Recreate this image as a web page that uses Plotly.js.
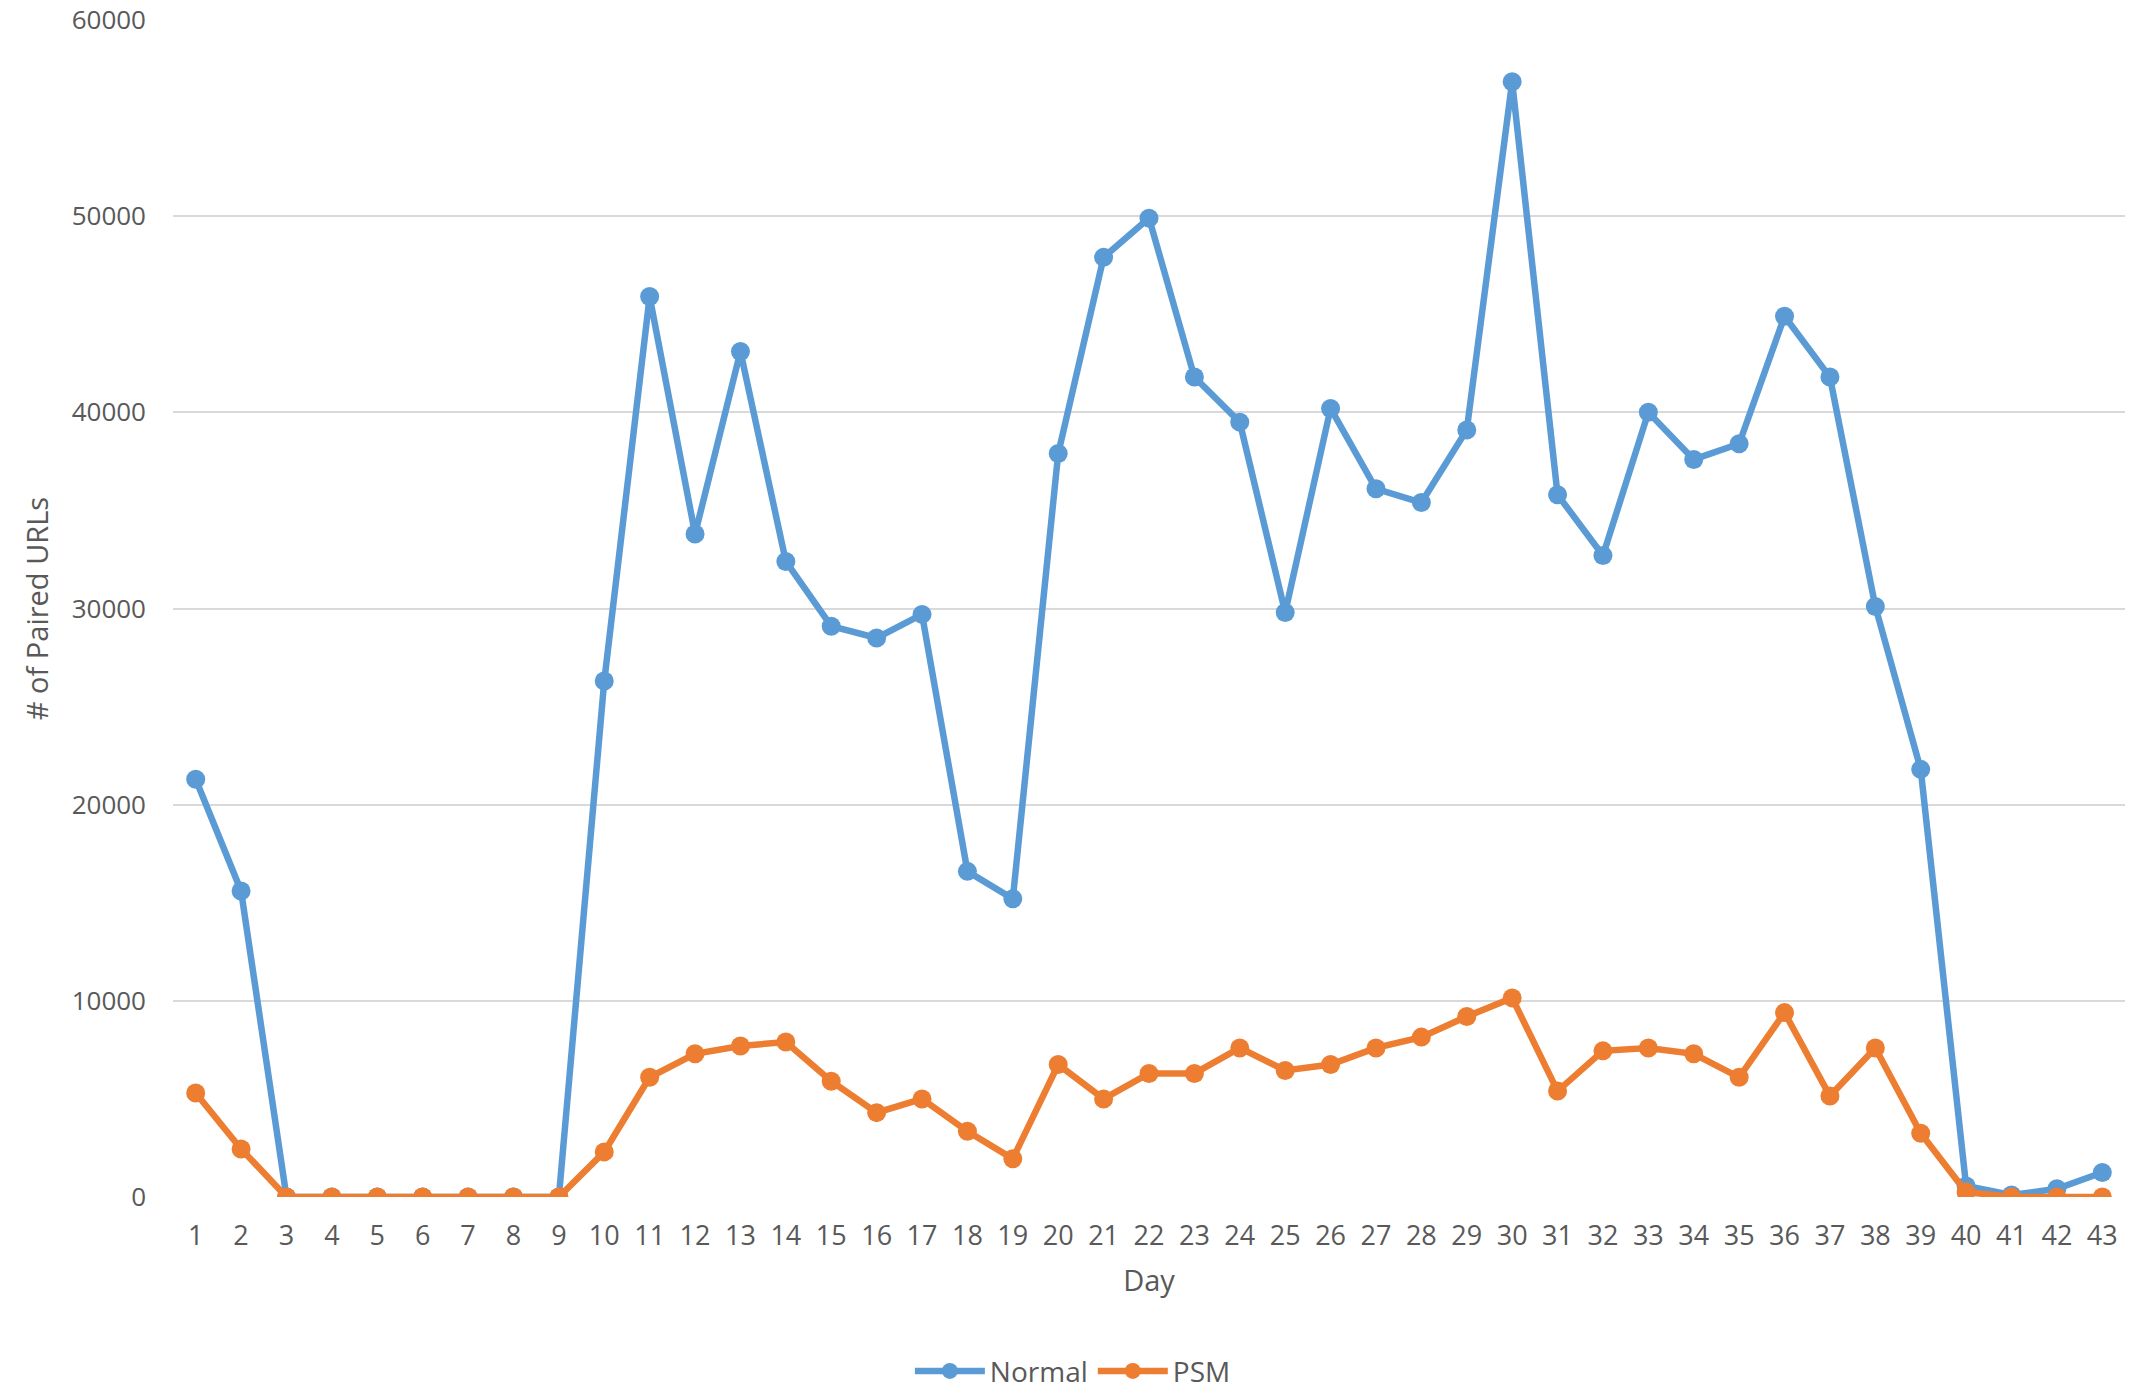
<!DOCTYPE html>
<html>
<head>
<meta charset="utf-8">
<script src="https://cdn.plot.ly/plotly-3.0.1.min.js"></script>
<style>
  html, body { margin: 0; padding: 0; background: #fff; }
  #chart { width: 2142px; height: 1399px; }
</style>
</head>
<body>
<div id="chart"></div>
<script>
// Days 1..43
const days = Array.from({ length: 43 }, (_, i) => String(i + 1));

// # of paired URLs per day
const normalValues = [
    21300, 15600, 0, 0, 0, 0, 0, 0, 0, 26300,
    45900, 33800, 43100, 32400, 29100, 28500, 29700, 16600, 15200, 37900,
    47900, 49900, 41800, 39500, 29800, 40200, 36100, 35400, 39100, 56850,
    35800, 32700, 40000, 37600, 38400, 44900, 41800, 30100, 21800, 560,
    100, 420, 1250
];

const psmValues = [
    5300, 2450, 0, 0, 0, 0, 0, 0, 0, 2300,
    6100, 7300, 7700, 7900, 5900, 4300, 5000, 3350, 1950, 6750,
    5000, 6300, 6300, 7600, 6450, 6750, 7600, 8150, 9200, 10150,
    5400, 7450, 7600, 7300, 6100, 9400, 5150, 7600, 3250, 250,
    0, 0, 0
];

const textColor = "#595959";
const fontFamily = "'Open Sans', 'Noto Sans', sans-serif";

const traceNormal = {
    type: "scatter",
    mode: "lines+markers",
    name: "Normal",
    x: days,
    y: normalValues,
    line: { color: "#5B9BD5", width: 6.5 },
    marker: { color: "#5B9BD5", size: 19 }
};

const tracePSM = {
    type: "scatter",
    mode: "lines+markers",
    name: "PSM",
    x: days,
    y: psmValues,
    line: { color: "#ED7D31", width: 6.5 },
    marker: { color: "#ED7D31", size: 19 }
};

const layout = {
    width: 2142,
    height: 1399,
    paper_bgcolor: "#fff",
    plot_bgcolor: "#fff",
    margin: { l: 173, r: 17, t: 20, b: 202, autoexpand: false },
    font: { family: fontFamily, size: 27, color: textColor },
    showlegend: true,
    legend: {
        orientation: "h",
        x: 0.461,
        xanchor: "center",
        y: -0.148,
        yanchor: "middle",
        font: { size: 28, color: textColor },
        itemwidth: 70
    },
    xaxis: {
        type: "category",
        range: [-0.5, 42.5],
        showgrid: false,
        zeroline: false,
        showline: false,
        ticks: "",
        ticklabelstandoff: 20,
        tickfont: { size: 27, color: textColor },
        title: { text: "Day", font: { size: 29, color: textColor }, standoff: 18 }
    },
    yaxis: {
        range: [0, 60000],
        dtick: 10000,
        showgrid: true,
        gridcolor: "#D9D9D9",
        gridwidth: 2,
        zeroline: false,
        showline: false,
        ticks: "",
        ticklabelstandoff: 26,
        ticklabeloverflow: "allow",
        tickformat: "d",
        tickfont: { size: 26, color: textColor },
        title: { text: "# of Paired URLs", font: { size: 29, color: textColor }, standoff: 14 }
    }
};

Plotly.newPlot("chart", [traceNormal, tracePSM], layout, { displayModeBar: false, staticPlot: true });
</script>
</body>
</html>
